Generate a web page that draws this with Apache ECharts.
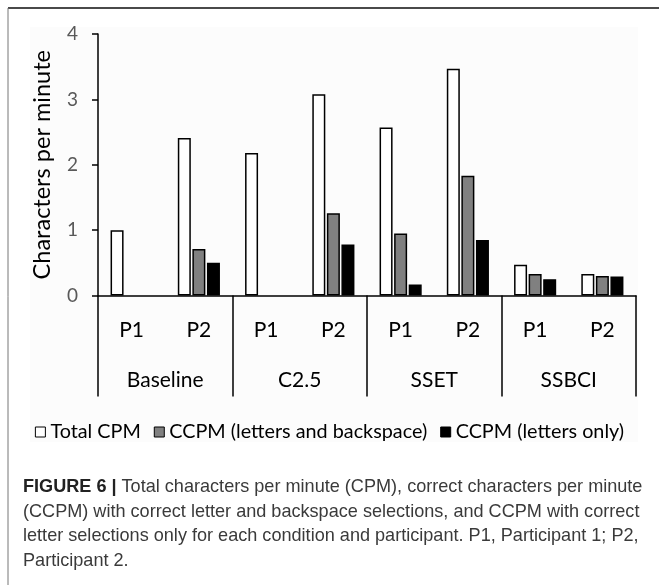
<!DOCTYPE html>
<html>
<head>
<meta charset="utf-8">
<script src="https://cdn.jsdelivr.net/npm/echarts@6/dist/echarts.min.js"></script>
<style>
html,body{margin:0;padding:0;background:#fff;}
#chart{width:659px;height:585px;}
</style>
</head>
<body>
<div id="chart"></div>
<script>
// ---- data ----
const participants = ['P1','P2','P1','P2','P1','P2','P1','P2'];
const conditions = ['Baseline','C2.5','SSET','SSBCI'];
const seriesNames = ['Total CPM','CCPM (letters and backspace)','CCPM (letters only)'];
const totalCPM    = [1.00, 2.41, 2.18, 3.08, 2.57, 3.47, 0.47, 0.33];
const ccpmLetBack = [null, 0.71, null, 1.26, 0.95, 1.83, 0.33, 0.30];
const ccpmLetOnly = [null, 0.50, null, 0.78, 0.17, 0.85, 0.25, 0.29];
const yTicks = [0, 1, 2, 3, 4];
const captionLines = [
  ['FIGURE 6 | ', 'Total characters per minute (CPM), correct characters per minute'],
  ['', '(CCPM) with correct letter and backspace selections, and CCPM with correct'],
  ['', 'letter selections only for each condition and participant. P1, Participant 1; P2,'],
  ['', 'Participant 2.']
];

const font = 'Lato, "Open Sans", sans-serif';
const chart = echarts.init(document.getElementById('chart'), null, {renderer:'canvas'});

const fills = ['#ffffff', '#808080', '#000000'];
const seriesData = [totalCPM, ccpmLetBack, ccpmLetOnly];

const graphics = [
  {type:'rect', shape:{x:30, y:27, width:608, height:415}, style:{fill:'#fcfcfc'}, silent:true, z:-10},
  {type:'line', shape:{x1:8, y1:8, x2:659, y2:8}, style:{stroke:'#4a4a4a', lineWidth:2}},
  {type:'line', shape:{x1:8, y1:8, x2:8, y2:585}, style:{stroke:'#777', lineWidth:1}}
];
captionLines.forEach((ln, i) => {
  graphics.push({
    type:'text', left:23, top: 478 + i*24.7,
    style:{
      text: (ln[0] ? '{b|' + ln[0] + '}' : '') + '{n|' + ln[1] + '}',
      rich:{
        b:{fontFamily:'"Liberation Sans", Arial, sans-serif', fontWeight:'bold', fontSize:18.1, fill:'#222'},
        n:{fontFamily:'"Liberation Sans", Arial, sans-serif', fontSize:18.1, fill:'#3a3a3a'}
      }
    }
  });
});

chart.setOption({
  animation:false,
  backgroundColor:'#ffffff',
  grid:{left:98, right:23, top:34, bottom:289.5, containLabel:false},
  legend:{
    data: seriesNames,
    top: 417, left: 'center',
    icon:'rect', itemWidth:10, itemHeight:10, itemGap:13,
    itemStyle:{borderColor:'#000', borderWidth:1},
    textStyle:{fontFamily:font, fontSize:19.8, color:'#000'}
  },
  xAxis:[
    {
      type:'category', data: participants, position:'bottom',
      axisLine:{show:true, lineStyle:{color:'#000', width:1.5}},
      axisTick:{show:false},
      axisLabel:{fontFamily:font, fontSize:21, color:'#000', margin:24, interval:0}
    },
    {
      type:'category', data: conditions, position:'bottom',
      axisLine:{show:false},
      axisTick:{show:true, length:101, interval:0, lineStyle:{color:'#000', width:1.5}},
      axisLabel:{fontFamily:font, fontSize:21, color:'#000', margin:74, interval:0}
    }
  ],
  yAxis:{
    type:'value', min:0, max:4, interval:1,
    name:'Characters per minute', nameLocation:'middle', nameGap:44,
    nameTextStyle:{fontFamily:font, fontSize:23.5, color:'#000'},
    axisLine:{show:true, lineStyle:{color:'#000', width:1.5}},
    axisTick:{show:true, length:6, lineStyle:{color:'#000', width:1.5}},
    splitLine:{show:false},
    axisLabel:{fontFamily:font, fontSize:19, color:'#595959', margin:20,
      formatter: v => yTicks.includes(v) ? String(v) : ''}
  },
  series: seriesNames.map((n, i) => ({
    name:n, type:'bar', xAxisIndex:0, data: seriesData[i],
    barWidth:13, barGap:'12%',
    itemStyle:{color:fills[i], borderColor:'#000', borderWidth:1.5}
  })),
  graphic: graphics
});
</script>
</body>
</html>
